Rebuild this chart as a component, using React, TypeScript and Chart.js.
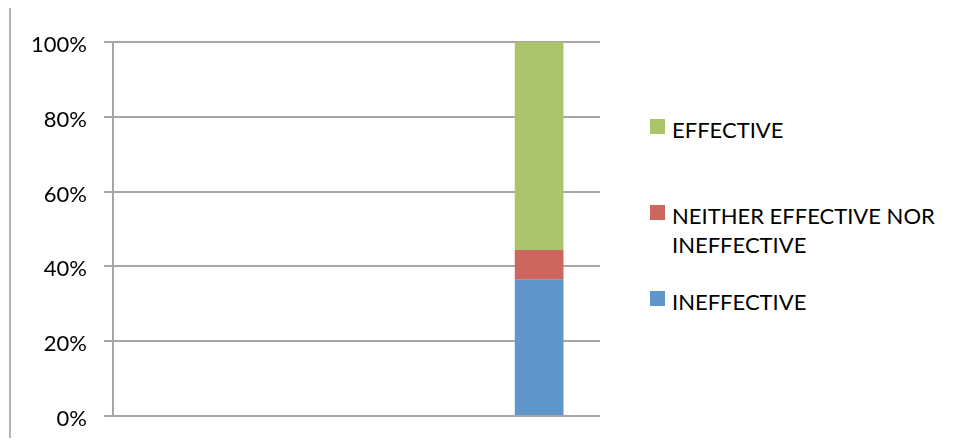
import React, { useEffect, useRef } from "react";
import { Chart, registerables } from "chart.js";

Chart.register(...registerables);

const categories = ["", "", "", ""];
const ineffective = [null, null, null, 36.4];
const neither = [null, null, null, 8.0];
const effective = [null, null, null, 55.6];
const seriesNames = ["INEFFECTIVE", "NEITHER EFFECTIVE NOR INEFFECTIVE", "EFFECTIVE"];
const seriesColors = ["#6196CB", "#CE6660", "#ABC46C"];
const yTicks = [0, 20, 40, 60, 80, 100];

const FONT = "Lato, 'Open Sans', sans-serif";

export default function App() {
  const ref = useRef<HTMLCanvasElement>(null);
  useEffect(() => {
    if (!ref.current) return;
    const chart = new Chart(ref.current, {
      type: "bar",
      data: {
        labels: categories,
        datasets: [
          { label: seriesNames[0], data: ineffective, backgroundColor: seriesColors[0] },
          { label: seriesNames[1], data: neither, backgroundColor: seriesColors[1] },
          { label: seriesNames[2], data: effective, backgroundColor: seriesColors[2] },
        ],
      },
      options: {
        animation: false,
        responsive: false,
        maintainAspectRatio: false,
        layout: { padding: { top: 34, right: 8, bottom: 22, left: 0 } },
        plugins: { legend: { display: false }, tooltip: { enabled: false } },
        datasets: { bar: { barPercentage: 0.4, categoryPercentage: 1 } },
        scales: {
          x: { stacked: true, display: false },
          y: {
            stacked: true,
            min: 0,
            max: 100,
            afterFit: (s: any) => {
              s.width = 105;
              s.paddingTop = 0;
              s.paddingBottom = 0;
            },
            afterBuildTicks: (s: any) => { s.ticks = yTicks.map((v) => ({ value: v })); },
            ticks: {
              padding: 17,
              labelOffset: 3,
              color: "#000",
              font: { family: FONT, size: 22 },
              callback: (v: any) => v + "%",
            },
            grid: { color: "#A6A6A6", lineWidth: 2, tickLength: 9 },
            border: { color: "#A6A6A6", width: 2 },
          },
        },
      },
    });
    return () => chart.destroy();
  }, []);

  const legendItems = [
    { name: seriesNames[2], color: seriesColors[2], top: 111 },
    { name: "NEITHER EFFECTIVE NOR", name2: "INEFFECTIVE", color: seriesColors[1], top: 197 },
    { name: seriesNames[0], color: seriesColors[0], top: 283 },
  ];

  return (
    <div style={{ position: "relative", width: 949, height: 430 }}>
      <div style={{ position: "absolute", left: 1, top: -1, bottom: -8, width: 2, background: "#B4B4B4" }} />
      <canvas ref={ref} width={600} height={430} style={{ position: "absolute", left: 0, top: 0 }} />
      {legendItems.map((it, i) => (
        <div key={i} style={{ position: "absolute", left: 642, top: it.top, fontFamily: FONT, fontSize: 22, lineHeight: "29px", color: "#000" }}>
          <div style={{ position: "absolute", left: 0, top: 0, width: 15, height: 15, background: it.color }} />
          <div style={{ marginLeft: 22, marginTop: -4 }}>
            <div>{it.name}</div>
            {it.name2 ? <div>{it.name2}</div> : null}
          </div>
        </div>
      ))}
    </div>
  );
}
